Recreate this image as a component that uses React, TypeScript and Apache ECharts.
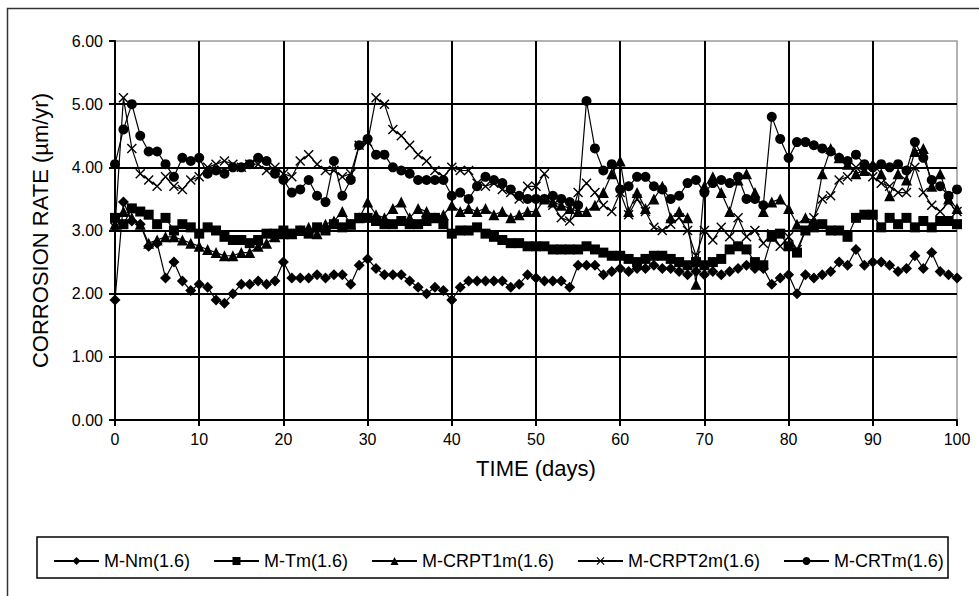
import React, { useEffect, useRef } from "react";
import * as echarts from "echarts";

const days = [0,1,2,3,4,5,6,7,8,9,10,11,12,13,14,15,16,17,18,19,20,21,22,23,24,25,26,27,28,29,30,31,32,33,34,35,36,37,38,39,40,41,42,43,44,45,46,47,48,49,50,51,52,53,54,55,56,57,58,59,60,61,62,63,64,65,66,67,68,69,70,71,72,73,74,75,76,77,78,79,80,81,82,83,84,85,86,87,88,89,90,91,92,93,94,95,96,97,98,99,100];

const mNm = [1.90,3.45,3.15,3.10,2.75,2.80,2.25,2.50,2.20,2.05,2.15,2.10,1.90,1.85,2.00,2.15,2.15,2.20,2.15,2.20,2.50,2.25,2.25,2.25,2.30,2.25,2.30,2.30,2.15,2.45,2.55,2.40,2.30,2.30,2.30,2.20,2.10,2.00,2.10,2.05,1.90,2.10,2.20,2.20,2.20,2.20,2.20,2.10,2.15,2.30,2.25,2.20,2.20,2.20,2.10,2.45,2.45,2.45,2.30,2.35,2.40,2.35,2.40,2.40,2.45,2.40,2.40,2.35,2.30,2.35,2.30,2.35,2.30,2.35,2.40,2.45,2.40,2.40,2.15,2.25,2.30,2.00,2.30,2.25,2.30,2.35,2.50,2.45,2.70,2.45,2.50,2.50,2.45,2.35,2.40,2.60,2.40,2.65,2.35,2.30,2.25];

const mTm = [3.20,3.10,3.35,3.30,3.25,3.10,3.20,3.00,3.10,3.05,2.95,3.05,3.00,2.90,2.85,2.85,2.80,2.85,2.95,2.95,3.00,2.95,3.00,2.95,3.05,3.00,3.10,3.05,3.10,3.20,3.20,3.15,3.10,3.10,3.15,3.10,3.10,3.15,3.20,3.10,2.95,3.00,3.00,3.05,2.95,2.90,2.85,2.80,2.80,2.75,2.75,2.75,2.70,2.70,2.70,2.70,2.75,2.70,2.65,2.60,2.60,2.55,2.50,2.55,2.60,2.60,2.55,2.50,2.45,2.50,2.45,2.50,2.55,2.70,2.75,2.70,2.50,2.45,2.90,2.95,2.75,2.65,3.00,3.05,3.10,3.00,3.00,2.90,3.20,3.25,3.25,3.05,3.20,3.10,3.20,3.05,3.15,3.05,3.15,3.15,3.10];

const mCRPT1m = [3.10,3.30,3.20,3.10,2.80,2.85,2.90,2.90,2.85,2.80,2.75,2.70,2.65,2.60,2.60,2.65,2.65,2.75,2.80,2.90,2.95,2.95,3.00,3.05,2.95,3.10,3.15,3.30,3.10,3.20,3.45,3.25,3.20,3.35,3.45,3.20,3.35,3.30,3.20,3.25,3.40,3.30,3.35,3.30,3.35,3.25,3.30,3.20,3.25,3.30,3.30,3.50,3.45,3.40,3.35,3.30,3.30,3.40,3.60,3.90,4.10,3.30,3.60,3.35,3.50,3.70,3.20,3.30,3.20,2.15,3.70,3.85,3.60,3.30,3.80,3.90,3.60,3.30,3.45,3.50,3.35,3.10,3.20,3.15,3.90,4.30,4.15,4.05,3.90,3.95,4.05,3.90,3.55,3.90,3.80,4.25,4.30,3.70,3.90,3.50,3.35];

const mCRPT2m = [3.05,5.10,4.30,3.90,3.80,3.70,3.85,3.70,3.65,3.80,3.85,4.00,4.05,4.10,4.05,4.00,4.05,4.05,3.95,4.00,3.90,3.85,4.10,4.20,4.05,3.95,3.95,3.85,3.90,4.35,4.40,5.10,5.00,4.60,4.50,4.35,4.20,4.10,3.95,3.85,4.00,3.95,3.95,3.75,3.70,3.75,3.65,3.60,3.50,3.70,3.70,3.90,3.40,3.20,3.15,3.60,3.75,3.60,3.40,3.30,3.60,3.25,3.50,3.30,3.05,3.00,3.10,3.20,3.00,2.60,3.00,2.85,3.05,2.90,3.20,2.90,3.00,2.80,2.95,2.75,2.90,2.70,3.00,3.20,3.50,3.55,3.80,3.85,4.00,3.95,3.85,3.75,3.70,3.60,3.60,4.00,3.60,3.40,3.30,3.45,3.30];

const mCRTm = [4.05,4.60,5.00,4.50,4.25,4.25,4.05,3.85,4.15,4.10,4.15,3.90,3.95,3.90,4.00,4.00,4.05,4.15,4.10,3.90,3.80,3.60,3.65,3.80,3.55,3.45,4.10,3.55,3.80,4.35,4.45,4.20,4.20,4.00,3.95,3.90,3.80,3.80,3.80,3.80,3.55,3.60,3.50,3.70,3.85,3.80,3.75,3.65,3.55,3.50,3.50,3.50,3.55,3.50,3.45,3.40,5.05,4.30,3.95,4.05,3.65,3.70,3.85,3.85,3.70,3.65,3.50,3.55,3.75,3.80,3.60,3.75,3.80,3.75,3.85,3.50,3.50,3.40,4.80,4.45,4.15,4.40,4.40,4.35,4.30,4.25,4.15,4.10,4.20,4.05,4.00,4.05,4.00,4.05,3.95,4.40,4.15,3.80,3.70,3.55,3.65];

const seriesNames = ["M-Nm(1.6)", "M-Tm(1.6)", "M-CRPT1m(1.6)", "M-CRPT2m(1.6)", "M-CRTm(1.6)"];
const yTicks = [0, 1, 2, 3, 4, 5, 6];

const X_SYMBOL = "path://M0,1L1,0L5,4L9,0L10,1L6,5L10,9L9,10L5,6L1,10L0,9L4,5Z";

export default function App() {
  const ref = useRef<HTMLDivElement>(null);
  useEffect(() => {
    if (!ref.current) return;
    const chart = echarts.init(ref.current, null, { renderer: "svg" });
    const font = "'Liberation Sans', Arial, sans-serif";
    const mk = (name: string, arr: number[], symbol: string, size: number) => ({
      name,
      type: "line",
      data: days.map((d, i) => [d, arr[i]]),
      symbol,
      symbolSize: size,
      showAllSymbol: true,
      lineStyle: { color: "#000", width: 1.2 },
      itemStyle: { color: "#000", borderWidth: 0 },
      emphasis: { disabled: true },
    });
    chart.setOption({
      animation: false,
      backgroundColor: "#fff",
      textStyle: { fontFamily: font, color: "#000" },
      grid: {
        left: 115,
        top: 41,
        right: 22,
        bottom: 176,
        show: true,
        borderColor: "#9a9a9a",
        borderWidth: 1.5,
        backgroundColor: "#fff",
      },
      graphic: [
        {
          type: "rect",
          shape: { x: 7.5, y: 8.5, width: 1000, height: 700 },
          style: { fill: "none", stroke: "#333", lineWidth: 1.5 },
          silent: true,
        },
        {
          type: "rect",
          shape: { x: 37, y: 537, width: 911, height: 41 },
          style: { fill: "none", stroke: "#000", lineWidth: 1.5 },
          silent: true,
        },
      ],
      legend: {
        data: seriesNames,
        left: 48,
        top: 547,
        itemWidth: 45,
        itemHeight: 10,
        itemGap: 23,
        textStyle: { fontFamily: font, fontSize: 18, color: "#000" },
        inactiveColor: "#000",
      },
      xAxis: {
        type: "value",
        min: 0,
        max: 100,
        interval: 10,
        name: "TIME (days)",
        nameLocation: "middle",
        nameGap: 37,
        nameTextStyle: { fontFamily: font, fontSize: 22, color: "#000" },
        axisLine: { show: true, onZero: false, lineStyle: { color: "#000", width: 2 } },
        axisTick: { show: true, length: 6, lineStyle: { color: "#000", width: 2 } },
        axisLabel: { fontFamily: font, fontSize: 16, color: "#000", margin: 11 },
        splitLine: { show: true, showMinLine: false, showMaxLine: false, lineStyle: { color: "#000", width: 2 } },
      },
      yAxis: {
        type: "value",
        min: yTicks[0],
        max: yTicks[yTicks.length - 1],
        interval: 1,
        name: "CORROSION RATE (µm/yr)",
        nameLocation: "middle",
        nameGap: 64,
        nameTextStyle: { fontFamily: font, fontSize: 22, color: "#000" },
        axisLine: { show: true, lineStyle: { color: "#000", width: 2 } },
        axisTick: { show: true, length: 6, lineStyle: { color: "#000", width: 2 } },
        axisLabel: {
          fontFamily: font,
          fontSize: 16,
          color: "#000",
          margin: 12,
          formatter: (v: number) => v.toFixed(2),
        },
        splitLine: { show: true, showMinLine: false, showMaxLine: false, lineStyle: { color: "#000", width: 2 } },
      },
      series: [
        mk(seriesNames[0], mNm, "diamond", 11),
        mk(seriesNames[1], mTm, "rect", 10),
        mk(seriesNames[2], mCRPT1m, "triangle", 11),
        mk(seriesNames[3], mCRPT2m, X_SYMBOL, 10),
        mk(seriesNames[4], mCRTm, "circle", 10),
      ],
    });
    return () => chart.dispose();
  }, []);
  return (
    <div
      ref={ref}
      style={{ position: "absolute", left: 0, top: 0, width: 979, height: 596 }}
    />
  );
}
